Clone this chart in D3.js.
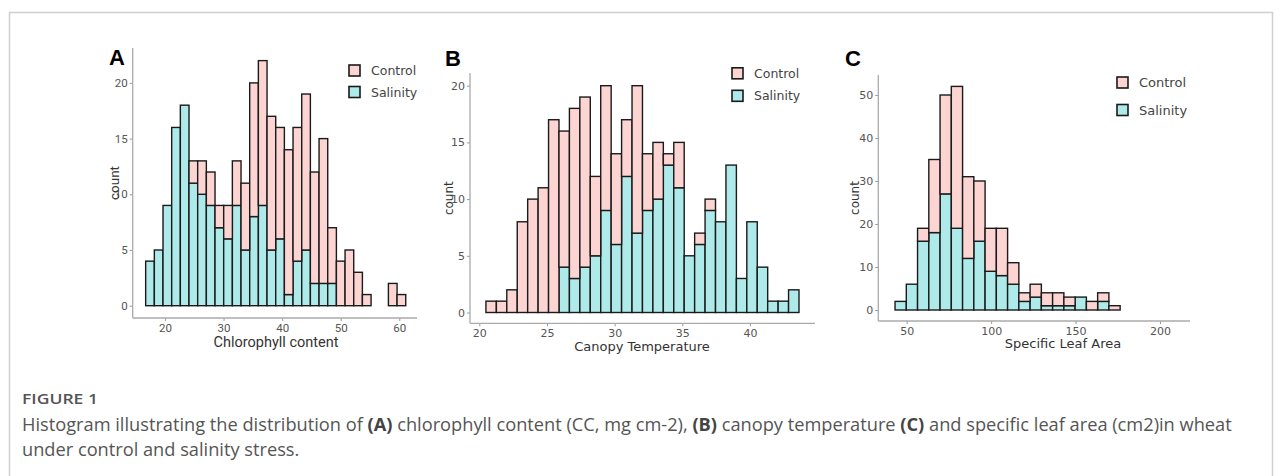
<!DOCTYPE html>
<html>
<head>
    <title>Figure 1 histograms</title>
    <script src="https://d3js.org/d3.v7.min.js"></script>
    <style>
        body { margin: 0; background: #fff; }
        .tick text { fill: #555; }
        .caption { font-family: "Open Sans", "Noto Sans", sans-serif; fill: #555; }
    </style>
</head>
<body>
    <div id="chart"></div>
    <script>
        // Panel A: chlorophyll content, 30 bins
        const ccStart = 16.7, ccWidth = 1.48;
        const ccControl  = [0,0,0,0,0,2,3,3,2,3,4,6,12,13,12,10,13,12,14,10,13,5,4,5,3,1,0,0,2,1];
        const ccSalinity = [4,5,9,16,18,11,10,9,7,6,9,5,8,9,5,6,1,4,5,2,2,2,0,0,0,0,0,0,0,0];
        const ccXTicks = [20, 30, 40, 50, 60];
        const ccYTicks = [0, 5, 10, 15, 20];

        // Panel B: canopy temperature, 30 bins
        const ctStart = 20.49, ctWidth = 0.771;
        const ctControl  = [1,1,2,8,10,11,17,12,15,15,7,11,8,5,13,5,5,1,4,0,1,1,0,0,0,0,0,0,0,0];
        const ctSalinity = [0,0,0,0,0,0,0,4,3,4,5,9,6,12,7,9,10,13,11,5,6,9,8,13,3,8,4,1,1,2];
        const ctXTicks = [20, 25, 30, 35, 40];
        const ctYTicks = [0, 5, 10, 15, 20];

        // Panel C: specific leaf area, 20 bins
        const slaStart = 43.1, slaWidth = 6.665;
        const slaControl  = [0,0,3,17,23,33,19,14,10,11,5,2,3,3,3,2,0,2,2,1];
        const slaSalinity = [2,6,16,18,27,19,12,16,9,8,6,2,3,1,1,1,3,0,2,0];
        const slaXTicks = [50, 100, 150, 200];
        const slaYTicks = [0, 10, 20, 30, 40, 50];

        const groups = ["Control", "Salinity"];
        const fill = { Control: "#fcd5d3", Salinity: "#afeaea" };

        const W = 1282, H = 476;
        const svg = d3.select("#chart").append("svg")
            .attr("width", W).attr("height", H);

        // light frame around the figure
        svg.append("path")
            .attr("d", `M9.5,${H} V12.5 H1272.5 V${H}`)
            .attr("fill", "none").attr("stroke", "#d0d0d0").attr("stroke-width", 1.5);

        function drawPanel(p) {
            const x = d3.scaleLinear().domain(p.xDom).range(p.xRange);
            const y = d3.scaleLinear().domain(p.yDom).range(p.yRange);
            const g = svg.append("g");

            const bins = p.control.map((c, i) => ({
                x0: p.start + i * p.width,
                x1: p.start + (i + 1) * p.width,
                sal: p.salinity[i],
                ctl: c
            }));

            // salinity at the bottom, control stacked on top
            g.selectAll(".sal").data(bins.filter(b => b.sal > 0)).enter().append("rect")
                .attr("x", b => x(b.x0)).attr("width", b => x(b.x1) - x(b.x0))
                .attr("y", b => y(b.sal)).attr("height", b => y(0) - y(b.sal))
                .attr("fill", fill.Salinity).attr("stroke", "#1a1a1a").attr("stroke-width", 1.4);
            g.selectAll(".ctl").data(bins.filter(b => b.ctl > 0)).enter().append("rect")
                .attr("x", b => x(b.x0)).attr("width", b => x(b.x1) - x(b.x0))
                .attr("y", b => y(b.sal + b.ctl)).attr("height", b => y(b.sal) - y(b.sal + b.ctl))
                .attr("fill", fill.Control).attr("stroke", "#1a1a1a").attr("stroke-width", 1.4);

            // axes
            const xAxis = g.append("g").attr("transform", `translate(0,${p.axisY})`)
                .call(d3.axisBottom(x).tickValues(p.xTicks).tickSize(3).tickPadding(3));
            const yAxis = g.append("g").attr("transform", `translate(${p.axisX},0)`)
                .call(d3.axisLeft(y).tickValues(p.yTicks).tickSize(3).tickPadding(2));
            [xAxis, yAxis].forEach(a => {
                a.select(".domain").remove();
                a.selectAll(".tick line").attr("stroke", "#999");
                a.selectAll(".tick text").attr("font-family", p.font).attr("font-size", p.tickSize);
            });
            g.append("line").attr("x1", p.axisX).attr("x2", p.axisX)
                .attr("y1", p.axisTop).attr("y2", p.axisY)
                .attr("stroke", "#aaa").attr("stroke-width", 1.3);
            g.append("line").attr("x1", p.axisX).attr("x2", p.axisRight)
                .attr("y1", p.axisY).attr("y2", p.axisY)
                .attr("stroke", "#aaa").attr("stroke-width", 1.3);

            // titles
            g.append("text").text(p.xTitle)
                .attr("x", p.xTitleX).attr("y", p.xTitleY).attr("text-anchor", "middle")
                .attr("font-family", p.font).attr("font-size", p.titleSize).attr("fill", "#333");
            g.append("text").text("count")
                .attr("transform", `translate(${p.yTitleX},${(p.axisTop + p.axisY) / 2}) rotate(-90)`)
                .attr("text-anchor", "middle")
                .attr("font-family", p.font).attr("font-size", p.titleSize - 1).attr("fill", "#333");
            g.append("text").text(p.label)
                .attr("x", p.labelX).attr("y", p.labelY)
                .attr("font-family", "Liberation Sans, Arial, sans-serif")
                .attr("font-weight", "bold").attr("font-size", 22).attr("fill", "#000");

            // legend
            groups.forEach((k, i) => {
                const cy = p.legY + i * p.legGap;
                g.append("rect").attr("x", p.legX).attr("y", cy - 5.5)
                    .attr("width", 11).attr("height", 11)
                    .attr("fill", fill[k]).attr("stroke", "#1a1a1a").attr("stroke-width", 1.6);
                g.append("text").text(k).attr("x", p.legX + 22).attr("y", cy)
                    .attr("dy", "0.36em")
                    .attr("font-family", "DejaVu Sans, Verdana, sans-serif")
                    .attr("font-size", p.legSize).attr("fill", "#444");
            });
        }

        const narrow = "Roboto, Liberation Sans Narrow, sans-serif";
        const verdana = "DejaVu Sans, Verdana, sans-serif";

        drawPanel({
            label: "A", labelX: 109, labelY: 65,
            start: ccStart, width: ccWidth, control: ccControl, salinity: ccSalinity,
            xDom: [20, 60], xRange: [165, 399.3], yDom: [0, 20], yRange: [305.7, 82.9],
            xTicks: ccXTicks, yTicks: ccYTicks,
            axisX: 132.7, axisY: 318, axisTop: 48, axisRight: 417,
            xTitle: "Chlorophyll content", xTitleX: 276, xTitleY: 347,
            yTitleX: 119, font: narrow, tickSize: 11.5, titleSize: 14.5,
            legX: 349, legY: 70.5, legGap: 21.5, legSize: 12.5
        });
        drawPanel({
            label: "B", labelX: 445, labelY: 66,
            start: ctStart, width: ctWidth, control: ctControl, salinity: ctSalinity,
            xDom: [20, 40], xRange: [479.3, 750], yDom: [0, 20], yRange: [312.5, 85.7],
            xTicks: ctXTicks, yTicks: ctYTicks,
            axisX: 470, axisY: 323.3, axisTop: 73, axisRight: 815,
            xTitle: "Canopy Temperature", xTitleX: 642, xTitleY: 351,
            yTitleX: 453, font: verdana, tickSize: 11, titleSize: 13,
            legX: 732, legY: 73.3, legGap: 22.5, legSize: 12.5
        });
        drawPanel({
            label: "C", labelX: 845, labelY: 66,
            start: slaStart, width: slaWidth, control: slaControl, salinity: slaSalinity,
            xDom: [50, 200], xRange: [906.7, 1160], yDom: [0, 50], yRange: [310, 95],
            xTicks: slaXTicks, yTicks: slaYTicks,
            axisX: 878.3, axisY: 321, axisTop: 75, axisRight: 1190,
            xTitle: "Specific Leaf Area", xTitleX: 1063, xTitleY: 348,
            yTitleX: 859, font: verdana, tickSize: 11, titleSize: 13,
            legX: 1117, legY: 82.5, legGap: 27.5, legSize: 13
        });

        // caption
        svg.append("text").attr("class", "caption").text("FIGURE 1")
            .attr("x", 22).attr("y", 404).attr("font-size", 15).attr("font-weight", 600)
            .attr("textLength", 76).attr("lengthAdjust", "spacingAndGlyphs")
            .attr("fill", "#666");
        const line1 = svg.append("text").attr("class", "caption")
            .attr("x", 22).attr("y", 431).attr("font-size", 17);
        [["Histogram illustrating the distribution of ", false], ["(A)", true],
         [" chlorophyll content (CC, mg cm-2), ", false], ["(B)", true],
         [" canopy temperature ", false], ["(C)", true],
         [" and specific leaf area (cm2)in wheat", false]].forEach(([t, b]) => {
            line1.append("tspan").text(t).attr("font-weight", b ? "bold" : "normal")
                .attr("fill", b ? "#444" : "#555");
        });
        const line2 = svg.append("text").attr("class", "caption").text("under control and salinity stress.")
            .attr("x", 22).attr("y", 456).attr("font-size", 17);

        // fit caption width to the figure's text block
        const fit = 1210 / line1.node().getComputedTextLength();
        line1.attr("font-size", 17 * fit);
        line2.attr("font-size", 17 * fit);
    </script>
</body>
</html>
